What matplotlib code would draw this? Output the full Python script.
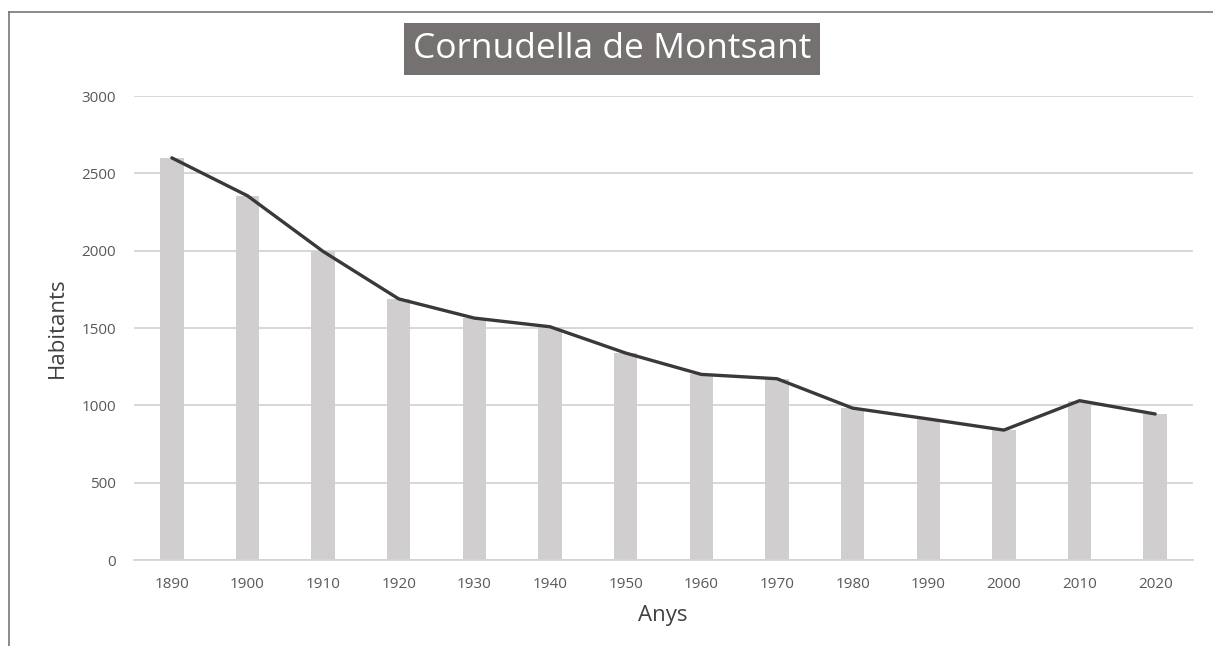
import matplotlib.pyplot as plt
from matplotlib.lines import Line2D

years = ['1890', '1900', '1910', '1920', '1930', '1940', '1950',
         '1960', '1970', '1980', '1990', '2000', '2010', '2020']
habitants = [2600, 2355, 1995, 1688, 1564, 1508, 1338,
             1200, 1172, 982, 912, 840, 1030, 944]

plt.rcParams['font.family'] = ['Open Sans', 'DejaVu Sans']

fig = plt.figure(figsize=(12.13, 6.46), dpi=100)
ax = fig.add_axes([134 / 1213, 1 - 560 / 646, (1193 - 134) / 1213, (560 - 96) / 646])

x = list(range(len(years)))
ax.bar(x, habitants, width=0.31, color='#d0cece', zorder=2)
ax.plot(x, habitants, color='#3a3838', linewidth=2.4, zorder=3,
        solid_capstyle='round', solid_joinstyle='round')

ax.set_xlim(-0.5, len(years) - 0.5)
ax.set_ylim(0, 3000)
ax.set_yticks(range(0, 3001, 500))
ax.set_xticks(x)
ax.set_xticklabels(years)
ax.grid(axis='y', color='#d4d4d4', linewidth=1.3, zorder=0)
for s in ['top', 'right', 'left']:
    ax.spines[s].set_visible(False)
ax.spines['bottom'].set_color('#d4d4d4')
ax.spines['bottom'].set_linewidth(1.3)
ax.tick_params(length=0, labelsize=11, labelcolor='#595959')
ax.tick_params(axis='y', pad=13)
ax.tick_params(axis='x', pad=12)

fig.text(57 / 1213, 1 - 328 / 646, 'Habitants', rotation=90, ha='center', va='center',
         fontsize=16, color='#404040')
fig.text(663 / 1213, 1 - 616 / 646, 'Anys', ha='center', va='center',
         fontsize=16, color='#404040')

fig.text(612 / 1213, 1 - 49 / 646, 'Cornudella de Montsant', ha='center', va='center',
         fontsize=25.5, color='white',
         bbox=dict(boxstyle='square,pad=0.25', facecolor='#767171', edgecolor='none'))

# frame on left and top
fig.add_artist(Line2D([8.5 / 1213, 8.5 / 1213], [0, 1 - 11.5 / 646], color='#7a7676', linewidth=1.2))
fig.add_artist(Line2D([8.5 / 1213, 1], [1 - 11.5 / 646, 1 - 11.5 / 646], color='#7a7676', linewidth=1.2))

fig.savefig('out.png', dpi=100, facecolor='white')
